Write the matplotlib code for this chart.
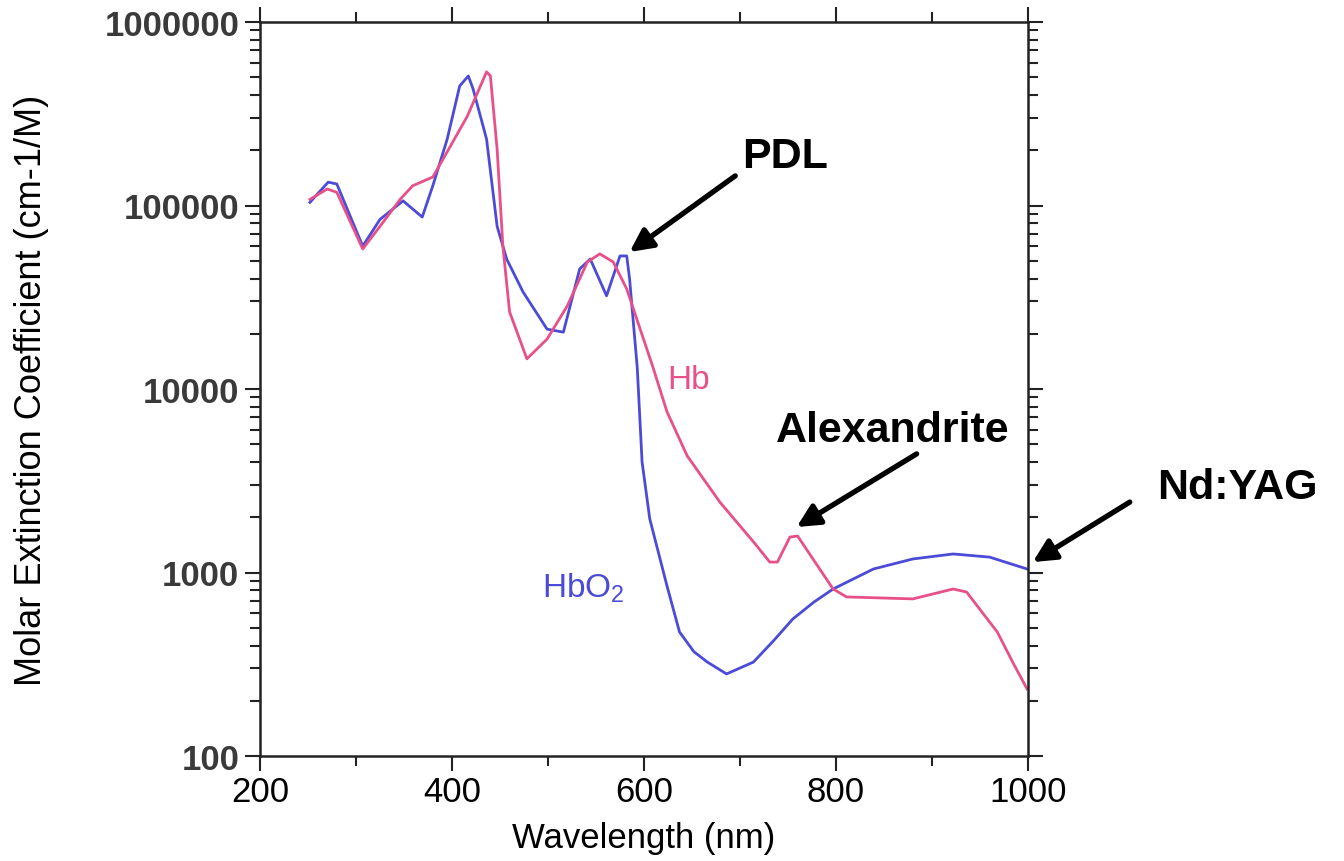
import matplotlib
matplotlib.use("Agg")
import matplotlib.pyplot as plt
from matplotlib.ticker import FixedLocator, LogLocator, NullFormatter

plt.rcParams['font.family'] = ['Liberation Sans', 'DejaVu Sans']

# HbO2 (oxy-haemoglobin)
hbo2_wl = [252, 271, 280, 307, 325, 349, 369, 380, 395, 408, 417, 422, 436, 447,
           457, 474, 499, 516, 533, 544, 561, 575, 582, 585, 593, 598, 606, 624,
           637, 652, 666, 686, 714, 735, 755, 777, 797, 839, 880, 922, 960, 999]
hbo2_eps = [104000, 134000, 131000, 60000, 84000, 106000, 86500, 128000, 230000,
            448000, 508000, 431000, 230000, 77000, 51000, 33800, 21200, 20400,
            45100, 51100, 32200, 53100, 53100, 39800, 13000, 4000, 1960, 843,
            474, 370, 325, 280, 325, 425, 558, 690, 813, 1045, 1185, 1262, 1213, 1045]

# Hb (deoxy-haemoglobin)
hb_wl = [252, 270, 280, 307, 325, 346, 359, 380, 395, 416, 436, 440, 447, 453,
         460, 478, 499, 520, 541, 554, 568, 582, 596, 609, 624, 645, 679, 714,
         731, 739, 752, 760, 776, 797, 811, 880, 922, 936, 968, 984, 999]
hb_eps = [108000, 123000, 118000, 58000, 77000, 108000, 128000, 143000, 196000,
          307000, 535000, 508000, 203000, 60000, 26300, 14600, 18700, 28300,
          49200, 54500, 49200, 35100, 21200, 13300, 7500, 4320, 2420, 1470,
          1140, 1140, 1560, 1580, 1185, 813, 736, 718, 813, 783, 474, 325, 232]

# laser annotations: label, text position, arrow head, arrow tail
lasers = ['PDL', 'Alexandrite', 'Nd:YAG']
laser_text = [(747, 186000), (859, 5990), (1218, 2920)]
laser_head = [(585, 55800), (759, 1770), (1005, 1140)]
laser_tail = [(695, 145000), (884, 4430), (1106, 2420)]

x_major = [200, 400, 600, 800, 1000]
x_minor = [300, 500, 700, 900]
y_major = [100, 1000, 10000, 100000, 1000000]

blue = '#4b4bd8'
pink = '#e8508a'

fig = plt.figure(figsize=(13.44, 8.62), dpi=100)
ax = fig.add_axes([260 / 1344, 1 - 757 / 862, (1028 - 260) / 1344, (757 - 23) / 862])

ax.plot(hbo2_wl, hbo2_eps, color=blue, lw=2.0)
ax.plot(hb_wl, hb_eps, color=pink, lw=2.0)

ax.set_yscale('log')
ax.set_xlim(200, 1000)
ax.set_ylim(100, 1000000)

ax.xaxis.set_major_locator(FixedLocator(x_major))
ax.xaxis.set_minor_locator(FixedLocator(x_minor))
ax.yaxis.set_major_locator(FixedLocator(y_major))
ax.yaxis.set_minor_locator(LogLocator(base=10, subs=range(2, 10)))
ax.yaxis.set_minor_formatter(NullFormatter())
ax.set_xticklabels([str(v) for v in x_major])
ax.set_yticklabels([str(v) for v in y_major])

ax.tick_params(which='both', direction='out', top=True, right=True, width=1.5, color='#222222')
ax.tick_params(which='major', length=11)
ax.tick_params(which='minor', length=7)
ax.tick_params(axis='x', labelsize=25, pad=3)
ax.tick_params(axis='y', labelsize=25, pad=4, labelcolor='#3a3a3a')
for lab in ax.get_yticklabels():
    lab.set_fontweight('bold')
for sp in ax.spines.values():
    sp.set_linewidth(1.8)
    sp.set_color('#222222')

ax.set_xlabel('Wavelength (nm)', fontsize=25, labelpad=9)
ax.set_ylabel('Molar Extinction Coefficient (cm-1/M)', fontsize=26, labelpad=40)

ax.text(646, 11300, 'Hb', color=pink, fontsize=24, ha='center', va='center')
ax.text(537, 834, r'HbO$_\mathregular{2}$', color=blue, fontsize=24, ha='center', va='center')

for name, tpos, head, tail in zip(lasers, laser_text, laser_head, laser_tail):
    ax.annotate('', xy=head, xytext=tail, annotation_clip=False,
                arrowprops=dict(arrowstyle='-|>', lw=3.8, color='black', mutation_scale=34,
                                shrinkA=0, shrinkB=0))
    ax.text(tpos[0], tpos[1], name, fontsize=31, fontweight='bold', ha='center', va='center',
            clip_on=False)

fig.savefig('out.png', dpi=100)
